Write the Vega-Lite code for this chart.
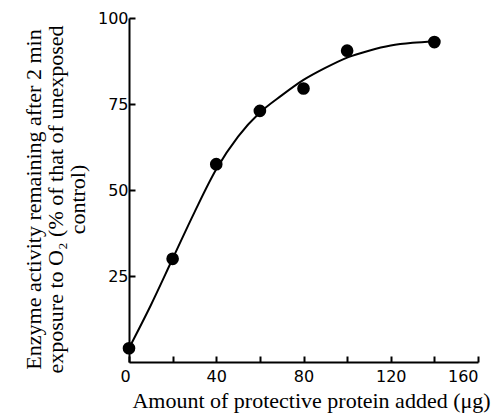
{
  "$schema": "https://vega.github.io/schema/vega-lite/v6.json",
  "width": 349,
  "height": 344,
  "autosize": {"type": "none"},
  "padding": {"left": 129, "top": 18, "right": 18, "bottom": 51},
  "background": "white",
  "config": {
    "view": {"stroke": null},
    "axis": {
      "grid": false,
      "domainColor": "black",
      "domainWidth": 2,
      "tickColor": "black",
      "tickWidth": 2,
      "labelColor": "black",
      "titleColor": "black",
      "labelFont": "DejaVu Sans",
      "labelFontSize": 16,
      "labelFontWeight": "normal",
      "titleFont": "Liberation Serif",
      "titleFontSize": 22,
      "titleFontWeight": "normal"
    }
  },
  "encoding": {
    "x": {
      "field": "protein",
      "type": "quantitative",
      "scale": {"domain": [0, 160], "nice": false, "zero": false},
      "axis": {
        "values": [0, 20, 40, 60, 80, 100, 120, 140, 160],
        "labelExpr": "datum.value % 40 == 0 ? datum.label : ''",
        "tickSize": -6,
        "labelPadding": 12,
        "labelOffset": {"condition": {"test": "datum.value == 0", "value": -9}, "value": 0},
        "title": "Amount of protective protein added (μg)",
        "titleX": 182,
        "titleY": 45,
        "titleAlign": "center",
        "titleBaseline": "alphabetic"
      }
    },
    "y": {
      "field": "activity",
      "type": "quantitative",
      "scale": {"domain": [0, 100], "nice": false},
      "axis": {
        "values": [25, 50, 75, 100],
        "tickSize": -6,
        "labelPadding": 7,
        "title": ["Enzyme activity remaining after 2 min", "exposure to O₂ (% of that of unexposed", "control)"],
        "titleAngle": -90,
        "titleX": -96,
        "titleY": 181,
        "titleAlign": "center",
        "titleBaseline": "middle",
        "titleLineHeight": 22
      }
    }
  },
  "layer": [
    {
      "data": {"values": [
        {"protein": 0, "activity": 4},
        {"protein": 10, "activity": 16.5},
        {"protein": 20, "activity": 30},
        {"protein": 30, "activity": 43.5},
        {"protein": 40, "activity": 56},
        {"protein": 50, "activity": 65.5},
        {"protein": 60, "activity": 72.5},
        {"protein": 70, "activity": 77.5},
        {"protein": 80, "activity": 82},
        {"protein": 90, "activity": 85.5},
        {"protein": 100, "activity": 88.5},
        {"protein": 110, "activity": 90.5},
        {"protein": 120, "activity": 92},
        {"protein": 130, "activity": 92.8},
        {"protein": 140, "activity": 93.2}
      ]},
      "mark": {"type": "line", "interpolate": "monotone", "color": "black", "strokeWidth": 2}
    },
    {
      "data": {"values": [
        {"protein": 0, "activity": 4},
        {"protein": 20, "activity": 30},
        {"protein": 40, "activity": 57.5},
        {"protein": 60, "activity": 73},
        {"protein": 80, "activity": 79.5},
        {"protein": 100, "activity": 90.5},
        {"protein": 140, "activity": 93}
      ]},
      "mark": {"type": "point", "filled": true, "color": "black", "opacity": 1, "size": 160}
    }
  ]
}
